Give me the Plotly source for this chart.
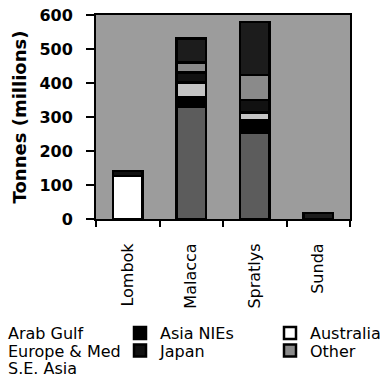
import plotly.graph_objects as go

# Cargo tonnage through the straits, stacked by region (millions of tonnes)
straits = ["Lombok", "Malacca", "Spratlys", "Sunda"]
arab_gulf = [0, 329, 255, 0]
asia_nies = [0, 19, 34, 0]
australia = [126, 10, 0, 0]
europe_med = [0, 44, 24, 0]
japan = [15, 29, 37, 0]
other = [0, 30, 74, 0]
se_asia = [0, 70, 156, 18]

y_ticks = [0, 100, 200, 300, 400, 500, 600]

FONT = "DejaVu Sans"
W, H = 386, 377
ML, MR, MT, MB = 96, 36, 15, 158
PW, PH = W - ML - MR, H - MT - MB

# legend rows (pixel centres) and column text starts
ROWS = [333, 350.5, 368]
COLS = [8, 160, 310]

# name, values, fill, legend id, column, row
series = [
    ("Arab Gulf", arab_gulf, "#5c5c5c", "legend", 0, 0),
    ("Asia NIEs", asia_nies, "#000000", "legend2", 1, 0),
    ("Australia", australia, "#ffffff", "legend3", 2, 0),
    ("Europe & Med", europe_med, "#c4c4c4", "legend4", 0, 1),
    ("Japan", japan, "#111111", "legend5", 1, 1),
    ("Other", other, "#8a8a8a", "legend6", 2, 1),
    ("S.E. Asia", se_asia, "#1c1c1c", "legend7", 0, 2),
]

fig = go.Figure()
legends = {}
for name, vals, color, leg, col, row in series:
    fig.add_trace(go.Bar(
        x=straits, y=vals, name=name, legend=leg,
        marker=dict(color=color, line=dict(color="black", width=2.5)),
    ))
    legends[leg] = dict(
        x=(COLS[col] - 40 - ML) / PW, xanchor="left",
        y=(MT + PH - ROWS[row]) / PH, yanchor="middle",
        bgcolor="rgba(0,0,0,0)", borderwidth=0,
        font=dict(family=FONT, size=16, color="black"),
    )

fig.update_layout(
    barmode="stack",
    bargap=0.53,
    width=W, height=H,
    margin=dict(l=ML, r=MR, t=MT, b=MB, autoexpand=False),
    paper_bgcolor="white",
    plot_bgcolor="#9c9c9c",
    showlegend=True,
    **legends,
)

fig.update_xaxes(
    showgrid=False, showline=True, linecolor="black", linewidth=2, mirror=True,
    ticks="outside", tickson="boundaries", ticklen=6, tickwidth=1.5, tickcolor="black",
    tickangle=-90, ticklabelstandoff=16,
    tickfont=dict(family=FONT, size=16, color="black"),
)
fig.update_yaxes(
    range=[0, 600], tickvals=y_ticks, ticktext=[str(v) for v in y_ticks],
    showgrid=False, zeroline=False, showline=True, linecolor="black", linewidth=2, mirror=True,
    ticks="outside", ticklen=8, tickwidth=1.5, tickcolor="black", ticklabelstandoff=10,
    tickfont=dict(family=FONT, size=16, color="black", weight="bold"),
    title=dict(text="Tonnes (millions)", standoff=8,
               font=dict(family=FONT, size=18, color="black", weight="bold")),
)

fig.write_html("out.html")
